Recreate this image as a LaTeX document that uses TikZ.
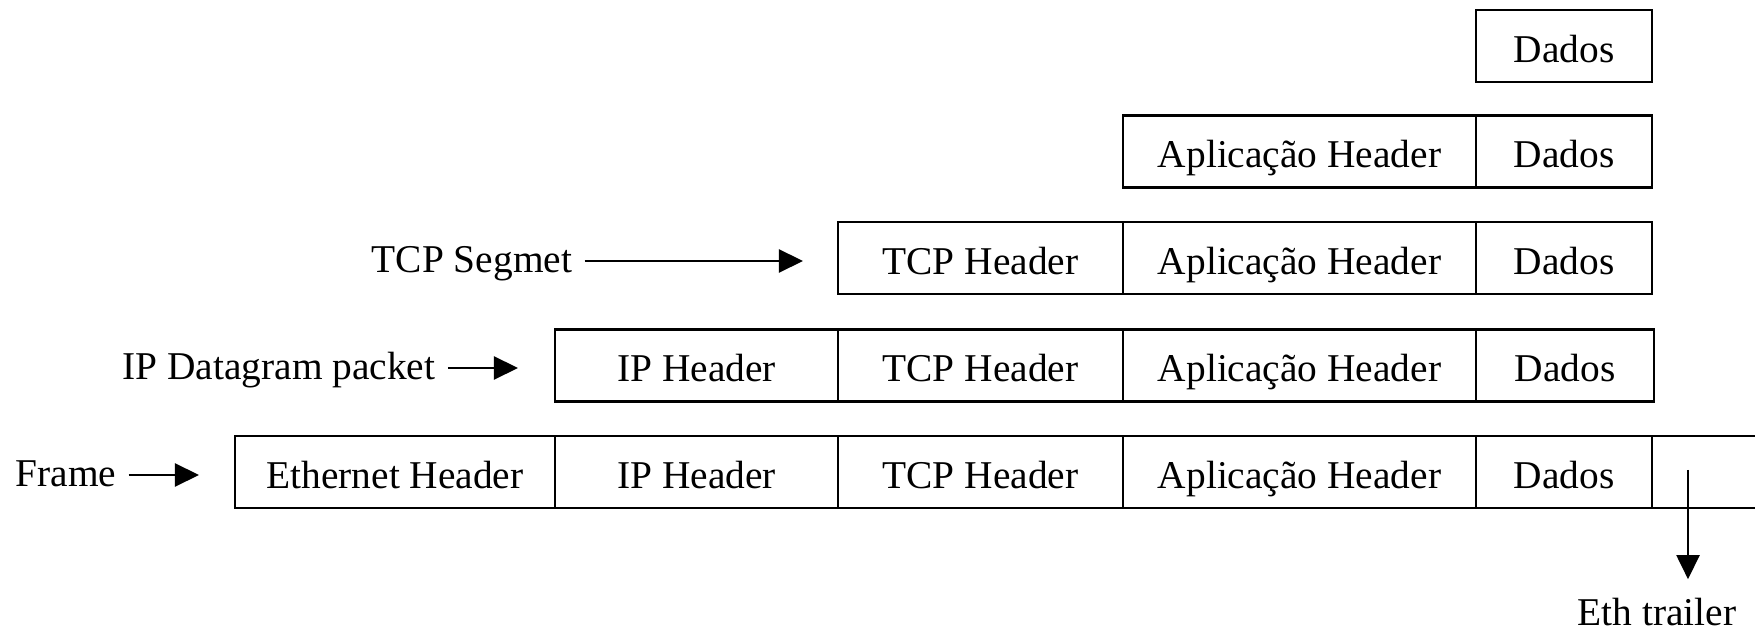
\documentclass[tikz,border=0pt]{standalone}
\usepackage{fontspec}
\setmainfont{Liberation Serif}
\usetikzlibrary{arrows.meta}

\begin{document}
\begin{tikzpicture}[x=0.01cm, y=-0.01cm,
    every node/.style={font=\fontsize{11.2}{13}\selectfont},
    cell/.style={draw, line width=0.6pt, minimum height=0.72cm, inner sep=0pt,
      text height=2.5ex, text depth=0.5ex},
    lbl/.style={text height=1.9ex, text depth=0.5ex},
    arr/.style={line width=0.6pt, -{Triangle[length=2.4mm, width=2.3mm]}}]
  \useasboundingbox (0,0) rectangle (1755,631);

  % Row 1: application data
  \node[cell, minimum width=1.76cm] (d1) at (1564,46) {Dados};

  % Row 2: application header added
  \node[cell, minimum width=3.53cm] (a2) at (1299.5,151.5) {Aplicação Header};
  \node[cell, minimum width=1.76cm] (d2) at (1564,151.5) {Dados};

  % Row 3: TCP segment
  \node[cell, minimum width=2.85cm] (t3) at (980.5,258) {TCP Header};
  \node[cell, minimum width=3.53cm] (a3) at (1299.5,258) {Aplicação Header};
  \node[cell, minimum width=1.76cm] (d3) at (1564,258) {Dados};

  % Row 4: IP datagram
  \node[cell, minimum width=2.83cm] (i4) at (696.5,365.5) {IP Header};
  \node[cell, minimum width=2.85cm] (t4) at (980.5,365.5) {TCP Header};
  \node[cell, minimum width=3.53cm] (a4) at (1299.5,365.5) {Aplicação Header};
  \node[cell, minimum width=1.78cm] (d4) at (1565,365.5) {Dados};

  % Row 5: ethernet frame
  \node[cell, minimum width=3.20cm] (e5) at (395,472) {Ethernet Header};
  \node[cell, minimum width=2.83cm] (i5) at (696.5,472) {IP Header};
  \node[cell, minimum width=2.85cm] (t5) at (980.5,472) {TCP Header};
  \node[cell, minimum width=3.53cm] (a5) at (1299.5,472) {Aplicação Header};
  \node[cell, minimum width=1.76cm] (d5) at (1564,472) {Dados};
  \node[cell, minimum width=1.18cm] (tr5) at (1711,472) {};

  % Labels on the left
  \node[lbl] (tcpseg) at (472,261) {TCP Segmet};
  \node[lbl] (ipdg) at (279,368) {IP Datagram packet};
  \node[lbl] (frame) at (66,475) {Frame};
  \node[lbl] (ethtr) at (1657,614) {Eth trailer};

  % Arrow ends
  \coordinate (tcpend) at (803,261);
  \coordinate (ipend) at (518,368);
  \coordinate (frameend) at (199,475);
  \coordinate (trail) at (1688,470);

  % Arrows
  \draw[arr] (tcpseg) -- (tcpend);
  \draw[arr] (ipdg) -- (ipend);
  \draw[arr] (frame) -- (frameend);
  \draw[arr, shorten >=0.3mm] (trail) -- (trail |- ethtr.north);
\end{tikzpicture}
\end{document}
